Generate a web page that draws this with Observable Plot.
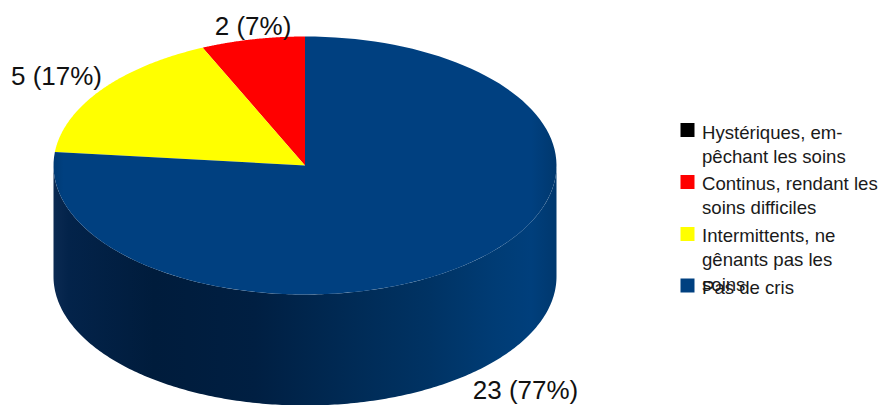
<!DOCTYPE html>
<html><head><meta charset="utf-8">
<script src="https://cdn.jsdelivr.net/npm/d3@7"></script>
<script src="https://cdn.jsdelivr.net/npm/@observablehq/plot@0.6"></script>
<style>html,body{margin:0;padding:0;background:#fff}svg{display:block}</style>
</head><body><div id="chart"></div>
<script>
// Data (in legend order, drawn counter-clockwise from 12 o'clock)
const categories = ["Hystériques, empêchant les soins","Continus, rendant les soins difficiles","Intermittents, ne gênants pas les soins","Pas de cris"];
const counts = [0, 2, 5, 23];
const percents = [0, 7, 17, 77];
const colors = ["#000000","#ff0000","#ffff00","#004080"];
const legendLines = [["Hystériques, em-","pêchant les soins"],["Continus, rendant les","soins difficiles"],["Intermittents, ne","gênants pas les","soins"],["Pas de cris"]];

// Layout
const W = 881, H = 405;
const pie = {cx:304.5, cy:165, rx:251.5, ry:129, depth:111};
const labelPos = {1:[252.5,26], 2:[56,76], 3:[525,390]};
const legendRows = [[133,157],[184,208],[236,260,285],[288]];
const swatchY = [129.5,181.5,233.5,285];

const total = d3.sum(counts);
const px = a => pie.cx - pie.rx*Math.sin(a);
const py = a => pie.cy - pie.ry*Math.cos(a);
const arc = (a0,a1,n=120) => d3.range(n+1).map(i => a0+(a1-a0)*i/n);

let acc = 0;
const slices = counts.map((c,i)=>{
  const a0 = acc/total*2*Math.PI; acc += c;
  const a1 = acc/total*2*Math.PI;
  return {i,a0,a1};
}).filter((_, i)=>counts[i]>0);

const sliceRows = slices.flatMap(s=>[
  {k:s.i,x:pie.cx,y:pie.cy},
  ...arc(s.a0,s.a1).map(a=>({k:s.i,x:px(a),y:py(a)}))
]);

// Front wall, outline of the visible side of the cylinder
const front = arc(Math.PI/2, 3*Math.PI/2, 240);
const wallRows = [
  ...front.map(a=>({x:px(a),y:py(a)})),
  ...front.slice().reverse().map(a=>({x:px(a),y:py(a)+pie.depth}))
];

const defs = () => {
  const d = d3.create("svg:defs");
  const grad = (id,stops) => {
    const g = d.append("linearGradient").attr("id",id).attr("x1",0).attr("x2",1).attr("y1",0).attr("y2",0);
    stops.forEach(([o,c])=>g.append("stop").attr("offset",o).attr("stop-color",c));
  };
  grad("wall",[[0,"#0b2a52"],[0.03,"#03234a"],[0.2,"#001c3c"],[0.4,"#001f42"],[0.6,"#002b56"],[0.75,"#003364"],[0.88,"#003c75"],[0.95,"#003f7c"],[1,"#00386e"]]);
  grad("face",[[0,"#003a74"],[0.02,"#004080"],[0.95,"#004080"],[1,"#00386e"]]);
  return d.node();
};

const marks = [
  defs,
  Plot.line(wallRows,{x:"x",y:"y",fill:"url(#wall)",stroke:"none",curve:"linear-closed"}),
  ...slices.map(s=>Plot.line(sliceRows.filter(r=>r.k===s.i),{
    x:"x",y:"y",stroke:"none",curve:"linear-closed",
    fill:s.i===3?"url(#face)":colors[s.i]})),
  Plot.text(slices,{
    x:s=>labelPos[s.i][0], y:s=>labelPos[s.i][1],
    text:s=>`${counts[s.i]} (${percents[s.i]}%)`,
    fontSize:26, fontFamily:"Liberation Sans", fill:"#111", textAnchor:"middle", lineAnchor:"middle"}),
  Plot.dot(categories,{
    x:()=>687, y:(_,i)=>swatchY[i], symbol:"square", r:7.9, stroke:"none",
    fill:(_,i)=>colors[i]}),
  Plot.text(legendLines.flatMap((ls,i)=>ls.map((t,j)=>({t,y:legendRows[i][j]}))),{
    x:()=>701.5, y:"y", text:"t", fontSize:18.6, fontFamily:"Liberation Sans",
    fill:"#1a1a1a", textAnchor:"start", lineAnchor:"middle"})
];

const chart = Plot.plot({
  width:W, height:H, margin:0,
  x:{domain:[0,W],range:[0,W],axis:null},
  y:{domain:[0,H],range:[0,H],axis:null},
  color:{type:"identity"},
  style:{background:"#fff"},
  marks
});
document.getElementById("chart").append(chart);
</script></body></html>
